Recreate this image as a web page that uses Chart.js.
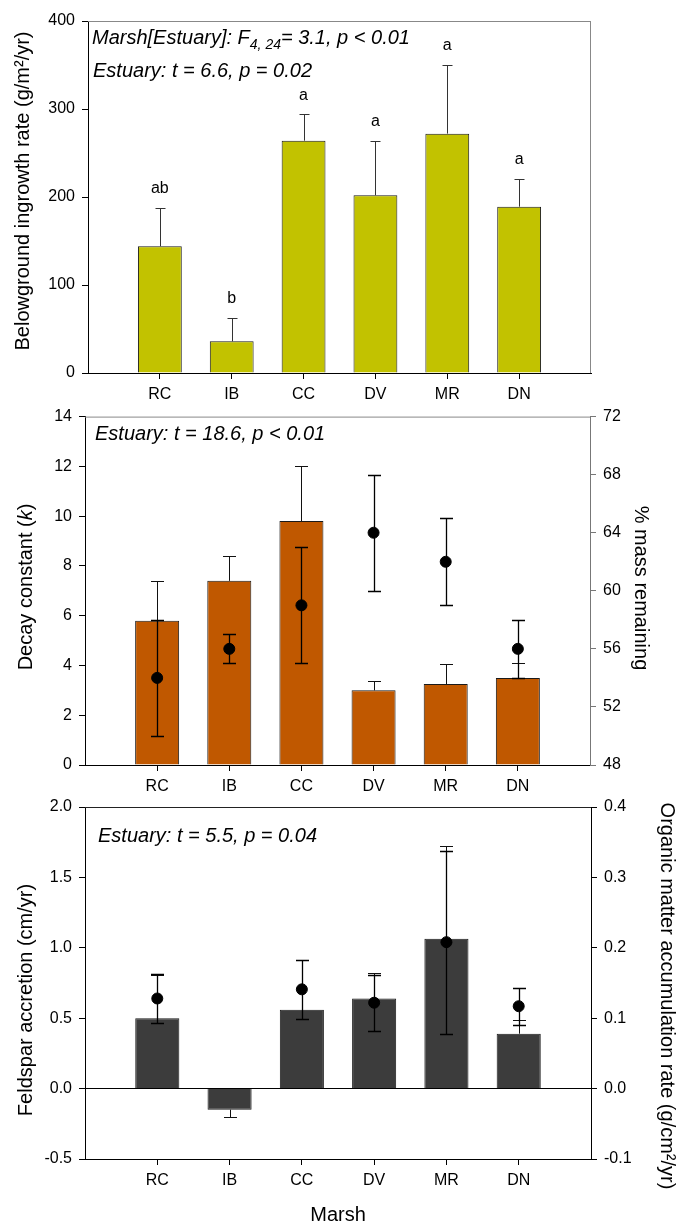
<!DOCTYPE html>
<html>
<head>
<meta charset="utf-8">
<script src="https://cdn.jsdelivr.net/npm/chart.js@4.4.1/dist/chart.umd.min.js"></script>
<style>
    body { margin: 0; background: #fff; }
    #wrap { position: relative; width: 678px; height: 1225px; }
    canvas { position: absolute; left: 0; }
</style>
</head>
<body>
<div id="wrap">
    <canvas id="c1" width="678" height="410" style="top:0px"></canvas>
    <canvas id="c2" width="678" height="400" style="top:400px"></canvas>
    <canvas id="c3" width="678" height="435" style="top:790px"></canvas>
</div>
<script>
// ─── Data ────────────────────────────────────────────────────────────────────
const MARSHES = ["RC", "IB", "CC", "DV", "MR", "DN"];

// panel 1: belowground ingrowth
const ingrowth        = [144, 36, 264, 202, 272, 189];
const ingrowthErr     = [44, 27, 30, 62, 78, 32];
const ingrowthLetters = ["ab", "b", "a", "a", "a", "a"];
const ingrowthTicks   = [0, 100, 200, 300, 400];

// panel 2: decay constant (bars) + % mass remaining (points)
const decayK        = [5.8, 7.4, 9.8, 3.0, 3.25, 3.5];
const decayKErr     = [1.6, 1.0, 2.2, 0.38, 0.8, 0.6];
const massRemain    = [54, 56, 59, 64, 62, 56];
const massRemainErr = [4, 1, 4, 4, 3, 2];
const decayTicks    = [0, 2, 4, 6, 8, 10, 12, 14];
const massTicks     = [48, 52, 56, 60, 64, 68, 72];

// panel 3: feldspar accretion (bars) + organic matter accumulation (points)
const feldspar       = [0.50, -0.15, 0.56, 0.64, 1.065, 0.39];
const feldsparErr    = [0.31, 0.05, 0.35, 0.18, 0.66, 0.10];
const organic        = [0.128, null, 0.141, 0.122, 0.208, 0.117];
const organicErr     = [0.035, null, 0.042, 0.04, 0.13, 0.026];
const feldsparTicks  = [-0.5, 0, 0.5, 1.0, 1.5, 2.0];
const organicTicks   = [-0.1, 0, 0.1, 0.2, 0.3, 0.4];

// ─── Helpers ─────────────────────────────────────────────────────────────────
const FAMILY = '"Liberation Sans", Arial, sans-serif';
const font = (size, style = "normal") => `${style} ${size}px ${FAMILY}`;
const pad = arr => [null, ...arr, null];          // blank slot each side of the marshes
const LABELS = pad(MARSHES).map(v => v || "");

Chart.defaults.font.family = FAMILY;
Chart.defaults.color = "#000";

// draw a run of text pieces (mixed fonts / subscripts), left-aligned or centred
function drawParts(ctx, parts, x, y, angle = 0, centre = false) {
    ctx.save();
    ctx.translate(x, y);
    ctx.rotate(angle);
    ctx.fillStyle = "#000";
    ctx.textBaseline = "middle";
    ctx.textAlign = "left";
    let total = 0;
    parts.forEach(p => { ctx.font = p.f; p.w = ctx.measureText(p.t).width; total += p.w; });
    let cx = centre ? -total / 2 : 0;
    parts.forEach(p => { ctx.font = p.f; ctx.fillText(p.t, cx, p.dy || 0); cx += p.w; });
    ctx.restore();
}

// error bars for any dataset carrying an `errors` array
const errorBars = {
    id: "errorBars",
    afterDatasetDraw(chart, args) {
        const ds = chart.data.datasets[args.index];
        if (!ds.errors) return;
        const meta  = args.meta;
        const scale = chart.scales[meta.yAxisID];
        const ctx   = chart.ctx;
        const cap   = ds.errorCap || 12;
        ctx.save();
        ctx.strokeStyle = ds.errorColor || "#000";
        ctx.lineWidth   = ds.errorWidth || 1;
        meta.data.forEach((el, i) => {
            const v = ds.data[i], e = ds.errors[i];
            if (v == null || e == null) return;
            const sign = v < 0 ? -1 : 1;
            const ends = [scale.getPixelForValue(v + sign * e)];
            if (ds.errorBoth) ends.push(scale.getPixelForValue(v - sign * e));
            const y0 = scale.getPixelForValue(v);
            const x  = Math.round(el.x) + 0.5;
            ends.forEach(y => {
                const yy = Math.round(y) + 0.5;
                ctx.beginPath();
                ctx.moveTo(x, y0);
                ctx.lineTo(x, yy);
                ctx.moveTo(x - cap / 2, yy);
                ctx.lineTo(x + cap / 2, yy);
                ctx.stroke();
            });
        });
        ctx.restore();
    },
};

// top / right frame lines not covered by an axis
function frame(top, right) {
    return {
        id: "frame",
        afterDraw(chart) {
            const { ctx, chartArea: a } = chart;
            ctx.save();
            ctx.lineWidth = 1;
            if (top) {
                ctx.strokeStyle = top;
                ctx.beginPath(); ctx.moveTo(a.left, a.top + 0.5); ctx.lineTo(a.right, a.top + 0.5); ctx.stroke();
            }
            if (right) {
                ctx.strokeStyle = right;
                ctx.beginPath(); ctx.moveTo(a.right - 0.5, a.top); ctx.lineTo(a.right - 0.5, a.bottom); ctx.stroke();
            }
            ctx.restore();
        },
    };
}

function xScale(height, title) {
    return {
        type: "category",
        offset: false,
        grid: {
            offset: false,
            drawOnChartArea: false,
            tickLength: 6,
            tickColor: c => (c.index === 0 || c.index === LABELS.length - 1) ? "rgba(0,0,0,0)" : "#000",
        },
        border: { color: "#000" },
        ticks: { font: { size: 16 }, padding: 6, autoSkip: false, maxRotation: 0 },
        title: title ? { display: true, text: title, font: { size: 20, lineHeight: 1 }, padding: 0 } : { display: false },
        afterFit: s => { s.height = height; },
    };
}

function yScale(min, max, ticks, width, opts = {}) {
    return {
        type: "linear",
        position: opts.position || "left",
        min, max,
        afterBuildTicks: s => { s.ticks = ticks.map(v => ({ value: v })); },
        ticks: {
            font: { size: 16 },
            padding: 7,
            callback: opts.fmt || (v => v),
        },
        grid: {
            drawOnChartArea: !!opts.zeroLine,
            color: c => (opts.zeroLine && c.tick && c.tick.value === 0) ? "#000" : "rgba(0,0,0,0)",
            tickLength: 6,
            tickColor: opts.axisColor || "#000",
        },
        border: { color: opts.axisColor || "#000" },
        afterFit: s => { s.width = width; },
    };
}

const barSet = (data, errors, colour, cap, errColour) => ({
    type: "bar",
    data: pad(data),
    errors: pad(errors),
    errorCap: cap,
    errorColor: errColour,
    backgroundColor: colour,
    borderColor: "#1a1a1a",
    borderWidth: 1,
    barPercentage: 0.61,
    categoryPercentage: 1,
    yAxisID: "y",
    order: 2,
});

const pointSet = (data, errors) => ({
    type: "line",
    data: pad(data),
    errors: pad(errors),
    errorBoth: true,
    errorCap: 13,
    errorWidth: 1.3,
    showLine: false,
    pointRadius: 5.5,
    pointBackgroundColor: "#000",
    pointBorderColor: "#000",
    yAxisID: "y2",
    order: 1,
});

const common = {
    responsive: false,
    animation: false,
    plugins: { legend: { display: false }, tooltip: { enabled: false } },
};

// ─── Panel 1 ─────────────────────────────────────────────────────────────────
new Chart(document.getElementById("c1"), {
    data: {
        labels: LABELS,
        datasets: [barSet(ingrowth, ingrowthErr, "#c2c200", 10, "#333")],
    },
    options: {
        ...common,
        layout: { padding: { top: 21, right: 87, left: 0, bottom: 0 } },
        scales: {
            x: xScale(37),
            y: yScale(0, 400, ingrowthTicks, 88),
        },
    },
    plugins: [errorBars, frame("#888", "#888"), {
        id: "notes1",
        afterDraw(chart) {
            const { ctx, chartArea: a, scales } = chart;
            const it = font(20, "italic");
            drawParts(ctx, [
                { t: "Marsh[Estuary]: F", f: it },
                { t: "4, 24", f: font(14, "italic"), dy: 7 },
                { t: "= 3.1, p < 0.01", f: it },
            ], a.left + 4, 38);
            drawParts(ctx, [{ t: "Estuary: t = 6.6, p = 0.02", f: it }], a.left + 5, 71);
            ctx.save();
            ctx.font = font(16);
            ctx.fillStyle = "#000";
            ctx.textAlign = "center";
            ctx.textBaseline = "middle";
            ingrowthLetters.forEach((l, i) => {
                const x = scales.x.getPixelForValue(i + 1);
                const y = scales.y.getPixelForValue(ingrowth[i] + ingrowthErr[i]) - 19;
                ctx.fillText(l, x, y);
            });
            ctx.restore();
            drawParts(ctx, [{ t: "Belowground ingrowth rate (g/m²/yr)", f: font(20) }],
                23, 191, -Math.PI / 2, true);
        },
    }],
});

// ─── Panel 2 ─────────────────────────────────────────────────────────────────
new Chart(document.getElementById("c2"), {
    data: {
        labels: LABELS,
        datasets: [
            pointSet(massRemain, massRemainErr),
            barSet(decayK, decayKErr, "#c05800", 13, "#111"),
        ],
    },
    options: {
        ...common,
        layout: { padding: { top: 13, right: 0, left: 0, bottom: 0 } },
        scales: {
            x: xScale(35),
            y: yScale(0, 14, decayTicks, 85),
            y2: yScale(48, 72, massTicks, 88, { position: "right", axisColor: "#777" }),
        },
    },
    plugins: [errorBars, frame("#888", null), {
        id: "notes2",
        afterDraw(chart) {
            const { ctx, chartArea: a } = chart;
            drawParts(ctx, [{ t: "Estuary: t = 18.6, p < 0.01", f: font(20, "italic") }], a.left + 10, 34);
            drawParts(ctx, [
                { t: "Decay constant (", f: font(20) },
                { t: "k", f: font(20, "italic") },
                { t: ")", f: font(20) },
            ], 26, 187, -Math.PI / 2, true);
            drawParts(ctx, [{ t: "% mass remaining", f: font(20) }], 641, 188, Math.PI / 2, true);
        },
    }],
});

// ─── Panel 3 ─────────────────────────────────────────────────────────────────
const fmt1 = v => v.toFixed(1);
new Chart(document.getElementById("c3"), {
    data: {
        labels: LABELS,
        datasets: [
            pointSet(organic, organicErr),
            barSet(feldspar, feldsparErr, "#3c3c3c", 13, "#111"),
        ],
    },
    options: {
        ...common,
        layout: { padding: { top: 17, right: 0, left: 0, bottom: 0 } },
        scales: {
            x: xScale(66, "Marsh"),
            y: yScale(-0.5, 2.0, feldsparTicks, 85, { fmt: fmt1, zeroLine: true }),
            y2: yScale(-0.1, 0.4, organicTicks, 87, { position: "right", fmt: fmt1 }),
        },
    },
    plugins: [errorBars, frame("#222", null), {
        id: "notes3",
        afterDraw(chart) {
            const { ctx, chartArea: a } = chart;
            drawParts(ctx, [{ t: "Estuary: t = 5.5, p = 0.04", f: font(20, "italic") }], a.left + 13, 46);
            drawParts(ctx, [{ t: "Feldspar accretion (cm/yr)", f: font(20) }],
                26, 210, -Math.PI / 2, true);
            drawParts(ctx, [{ t: "Organic matter accumulation rate (g/cm²/yr)", f: font(20) }],
                667, 206, Math.PI / 2, true);
        },
    }],
});
</script>
</body>
</html>
